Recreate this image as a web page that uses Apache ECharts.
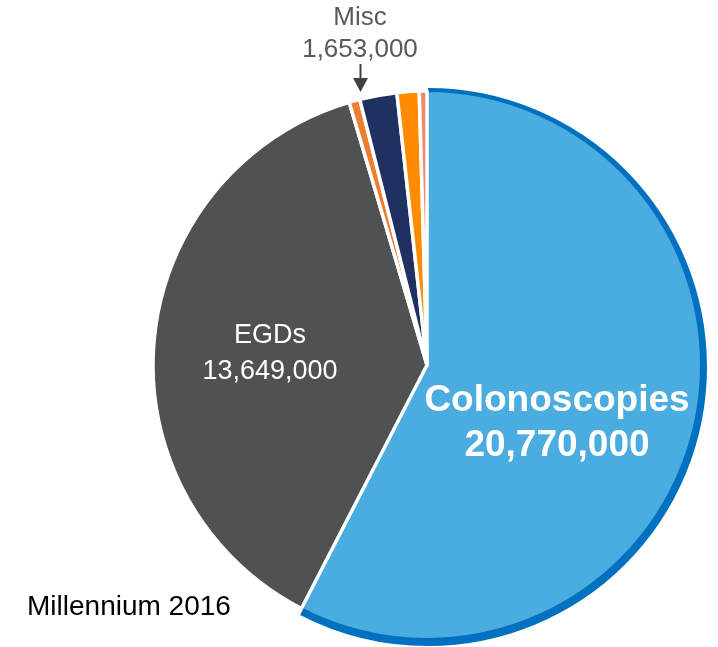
<!DOCTYPE html>
<html>
<head>
<meta charset="utf-8">
<script src="https://cdn.jsdelivr.net/npm/echarts@6/dist/echarts.min.js"></script>
<style>
  html, body { margin: 0; padding: 0; background: #ffffff; }
  #chart { width: 718px; height: 647px; }
</style>
</head>
<body>
<div id="chart"></div>
<script>
// Procedure volumes (Millennium 2016)
const categories = ['Colonoscopies', 'EGDs', 'Misc A', 'Misc B', 'Misc C', 'Misc D'];
const volumes = [20770000, 13649000, 230000, 790000, 470000, 163000];
const sliceColors = ['#4BACDF', '#505153', '#ED7D31', '#1F3160', '#FF8C00', '#F4876B'];
const miscLabel = 'Misc';
const miscTotal = 1653000;
const sourceNote = 'Millennium 2016';

const fmt = v => v.toLocaleString('en-US');
const FONT = 'Liberation Sans, Arial, sans-serif';
const ACCENT = '#0070C0';

const chart = echarts.init(document.getElementById('chart'), null, { renderer: 'canvas' });

const mainData = categories.map((name, i) => ({
  name, value: volumes[i],
  itemStyle: i === 0
    ? { color: sliceColors[i], borderColor: ACCENT, borderWidth: 2 }
    : { color: sliceColors[i] }
}));

// Outer accent band drawn under the colonoscopy slice only
const ringData = categories.map((name, i) => ({
  name, value: volumes[i],
  itemStyle: { color: i === 0 ? ACCENT : 'rgba(0,0,0,0)' }
}));

chart.setOption({
  animation: false,
  backgroundColor: '#ffffff',
  series: [
    {
      type: 'pie',
      center: [428, 367],
      radius: [0, 279],
      startAngle: 90,
      clockwise: true,
      silent: true,
      label: { show: false },
      labelLine: { show: false },
      itemStyle: { borderWidth: 0 },
      data: ringData,
      z: 1
    },
    {
      type: 'pie',
      center: [427, 365],
      radius: [0, 274],
      startAngle: 90,
      clockwise: true,
      silent: true,
      label: { show: false },
      labelLine: { show: false },
      itemStyle: { borderColor: '#ffffff', borderWidth: 3.5 },
      data: mainData,
      z: 2
    }
  ],
  graphic: [
    {
      type: 'text', x: 557, y: 423, z: 10,
      style: {
        text: categories[0] + '\n' + fmt(volumes[0]),
        fill: '#ffffff', font: 'bold 37px ' + FONT,
        textAlign: 'center', textVerticalAlign: 'middle', lineHeight: 45
      }
    },
    {
      type: 'text', x: 270, y: 354, z: 10,
      style: {
        text: categories[1] + '\n' + fmt(volumes[1]),
        fill: '#ffffff', font: '27px ' + FONT,
        textAlign: 'center', textVerticalAlign: 'middle', lineHeight: 36
      }
    },
    {
      type: 'text', x: 360, y: 34, z: 10,
      style: {
        text: miscLabel + '\n' + fmt(miscTotal),
        fill: '#595959', font: '26px ' + FONT,
        textAlign: 'center', textVerticalAlign: 'middle', lineHeight: 32
      }
    },
    {
      type: 'line', z: 10,
      shape: { x1: 360.5, y1: 64, x2: 360.5, y2: 80 },
      style: { stroke: '#404040', lineWidth: 2 }
    },
    {
      type: 'polygon', z: 10,
      shape: { points: [[353, 78], [368, 78], [360.5, 92]] },
      style: { fill: '#404040' }
    },
    {
      type: 'text', x: 27, y: 607, z: 10,
      style: {
        text: sourceNote, fill: '#000000', font: '28px ' + FONT,
        textAlign: 'left', textVerticalAlign: 'middle'
      }
    }
  ]
});
</script>
</body>
</html>
